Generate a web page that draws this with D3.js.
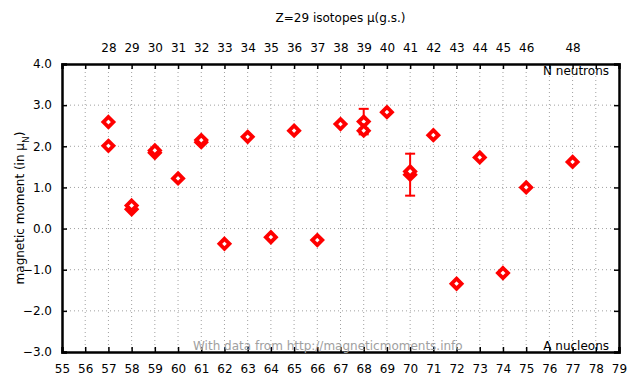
<!DOCTYPE html>
<html>
<head>
<meta charset="utf-8">
<script src="https://cdn.jsdelivr.net/npm/d3@7"></script>
<style>
  body { margin: 0; background: #fff; }
  text { font-family: "DejaVu Sans", Verdana, sans-serif; }
</style>
</head>
<body>
<div id="chart"></div>
<script>
// mass number A, moment, error
const massNumbers = [57, 57, 58, 58, 59, 59, 60, 61, 61, 62, 63, 64, 65, 66, 67, 68, 68, 69, 70, 70, 71, 72, 73, 74, 75, 77];
const moments     = [2.59, 2.01, 0.47, 0.56, 1.84, 1.90, 1.22, 2.10, 2.15, -0.37, 2.23, -0.21, 2.38, -0.28, 2.54, 2.60, 2.38, 2.83, 1.31, 1.39, 2.27, -1.34, 1.73, -1.08, 1.00, 1.62];
const errors      = [0, 0, 0, 0, 0, 0, 0, 0, 0, 0, 0, 0, 0, 0, 0, 0.31, 0.05, 0, 0.51, 0, 0, 0, 0, 0, 0, 0];

const topTicks  = [57, 58, 59, 60, 61, 62, 63, 64, 65, 66, 67, 68, 69, 70, 71, 72, 73, 74, 75, 77];
const topLabels = [28, 29, 30, 31, 32, 33, 34, 35, 36, 37, 38, 39, 40, 41, 42, 43, 44, 45, 46, 48];

const margin = {top: 64, right: 21, bottom: 32, left: 62},
  width = 640 - margin.left - margin.right,
  height = 384 - margin.top - margin.bottom;

const svg = d3.select("#chart")
  .append("svg")
    .attr("width", 640)
    .attr("height", 384)
  .append("g")
    .attr("transform", `translate(${margin.left}, ${margin.top})`);

const x = d3.scaleLinear().domain([55, 79]).range([0, width]);
const y = d3.scaleLinear().domain([-3, 4]).range([height, 0]);

const xTicks = d3.range(55, 80);
const yTicks = d3.range(-3, 5);

// grid
svg.append("g")
  .selectAll("line")
  .data(xTicks.slice(1, -1))
  .join("line")
    .attr("x1", d => x(d)).attr("x2", d => x(d))
    .attr("y1", 0).attr("y2", height)
    .attr("stroke", "#a0a0a0")
    .attr("stroke-dasharray", "1,3");
svg.append("g")
  .selectAll("line")
  .data(yTicks.slice(1, -1))
  .join("line")
    .attr("y1", d => y(d)).attr("y2", d => y(d))
    .attr("x1", 0).attr("x2", width)
    .attr("stroke", "#a0a0a0")
    .attr("stroke-dasharray", "1,3");

// axes, ticks inside
const fmt = d3.format(".1f");
const axBottom = svg.append("g")
  .attr("transform", `translate(0, ${height})`)
  .call(d3.axisBottom(x).tickValues(xTicks).tickSize(-5).tickPadding(12).tickFormat(d3.format("d")));
const axLeft = svg.append("g")
  .call(d3.axisLeft(y).tickValues(yTicks).tickSize(-5).tickPadding(10).tickFormat(fmt));
const axTop = svg.append("g")
  .call(d3.axisTop(x).tickValues(xTicks.slice(1, -1)).tickSize(-5).tickFormat(""));
const axTopLab = svg.append("g")
  .call(d3.axisTop(x).tickValues(topTicks).tickSize(0).tickPadding(12)
    .tickFormat((d, i) => topLabels[i]));
axTopLab.select(".domain").remove();
const axRight = svg.append("g")
  .attr("transform", `translate(${width}, 0)`)
  .call(d3.axisRight(y).tickValues(yTicks).tickSize(-5).tickFormat(""));

[axBottom, axLeft, axTop, axTopLab, axRight].forEach(g => {
  g.selectAll("text").style("font-size", "12px").attr("fill", "#000");
  g.selectAll(".tick line").attr("stroke", "#000").attr("stroke-width", 1.5);
  g.select(".domain").attr("stroke", "#000").attr("stroke-width", 2.5);
});

// error bars
const idx = d3.range(massNumbers.length);
const eb = svg.append("g").attr("stroke", "#ff0000").attr("stroke-width", 2);
idx.filter(i => errors[i] > 0).forEach(i => {
  const cx = x(massNumbers[i]);
  const y1 = y(moments[i] + errors[i]), y2 = y(moments[i] - errors[i]);
  eb.append("line").attr("x1", cx).attr("x2", cx).attr("y1", y1).attr("y2", y2);
  eb.append("line").attr("x1", cx - 5).attr("x2", cx + 5).attr("y1", y1).attr("y2", y1);
  eb.append("line").attr("x1", cx - 5).attr("x2", cx + 5).attr("y1", y2).attr("y2", y2);
});

// points
svg.append("g")
  .selectAll("path")
  .data(idx)
  .join("path")
    .attr("transform", i => `translate(${x(massNumbers[i])}, ${y(moments[i])})`)
    .attr("d", "M0,-5L5,0L0,5L-5,0Z")
    .attr("fill", "#fff")
    .attr("stroke", "#ff0000")
    .attr("stroke-width", 3.8);

// labels
svg.append("text")
  .attr("x", width / 2).attr("y", -42)
  .attr("text-anchor", "middle")
  .style("font-size", "12px")
  .text("Z=29 isotopes μ(g.s.)");

svg.append("text")
  .attr("x", width - 10).attr("y", 11)
  .attr("text-anchor", "end")
  .style("font-size", "12px")
  .text("N neutrons");

svg.append("text")
  .attr("x", width - 10).attr("y", height - 2)
  .attr("text-anchor", "end")
  .style("font-size", "12px")
  .text("A nucleons");

svg.append("text")
  .attr("x", 131).attr("y", height - 2)
  .style("font-size", "12px")
  .attr("fill", "#a0a0a0")
  .text("With data from http://magneticmoments.info");

const yl = svg.append("text")
  .attr("transform", `translate(-38, ${height / 2}) rotate(-90)`)
  .attr("text-anchor", "middle")
  .style("font-size", "12px");
yl.append("tspan").text("magnetic moment (in μ");
yl.append("tspan").attr("baseline-shift", "sub").style("font-size", "9px").text("N");
yl.append("tspan").text(")");
</script>
</body>
</html>
